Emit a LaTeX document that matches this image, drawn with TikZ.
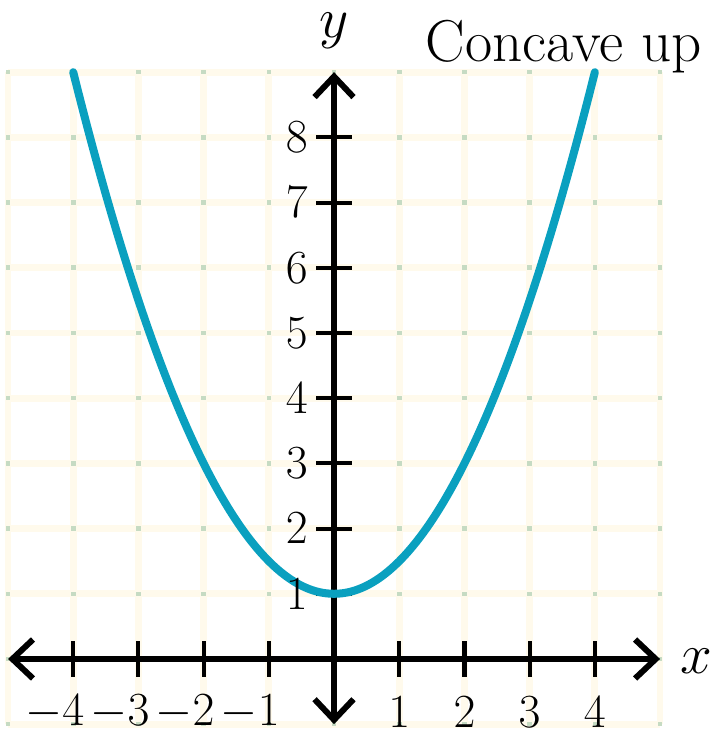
\documentclass[tikz,border=0pt]{standalone}
\usetikzlibrary{arrows.meta}
\definecolor{gridc}{HTML}{FFFAEC}
\definecolor{dotc}{HTML}{C6DBC3}
\definecolor{curvec}{HTML}{0AA0BF}
\begin{document}
\begin{tikzpicture}[
  gridline/.style={draw=gridc, line width=3pt},
  axisline/.style={line width=2.6pt, {Straight Barb[length=9pt,width=17pt]}-{Straight Barb[length=9pt,width=17pt]}},
  tickline/.style={line width=1.8pt},
  ticklabel/.style={font=\fontsize{21.5}{24}\selectfont, inner sep=0pt},
  axislabel/.style={font=\fontsize{24}{28}\selectfont, inner sep=0pt},
  titlelabel/.style={font=\fontsize{25.8}{30}\selectfont, inner sep=0pt},
  curveline/.style={draw=curvec, line width=3.5pt, line cap=round}
]
\useasboundingbox (-5.123,-1.181) rectangle (5.798,10.107);
% grid
\foreach \i in {-5,...,5} \draw[gridline] (\i,-1) -- (\i,9);
\foreach \j in {-1,...,9} \draw[gridline] (-5,\j) -- (5,\j);
\foreach \i in {-5,...,5} \foreach \j in {-1,...,9}
  \fill[dotc] (\i-0.035,\j-0.035) rectangle ++(0.07,0.07);
% axes
\coordinate (xleft) at (-5,0);
\coordinate (xright) at (5,0);
\coordinate (ybottom) at (0,-1);
\coordinate (ytop) at (0,9);
\draw[axisline] (xleft) -- (xright);
\draw[axisline] (ybottom) -- (ytop);
% ticks
\foreach \i in {-4,-3,-2,-1,1,2,3,4} \draw[tickline] (\i,-0.27) -- (\i,0.27);
\foreach \j in {1,...,8} \draw[tickline] (-0.27,\j) -- (0.27,\j);
% curve
\draw[curveline] plot[domain=-4:4, samples=121, smooth] (\x, {1+0.5*\x*\x});
% tick labels
\foreach \i in {1,...,4} {
  \node[ticklabel] (xneg\i) at (-\i,-0.81) {\llap{$-$}$\i$};
  \node[ticklabel] (xpos\i) at (\i,-0.81) {$\i$};
}
\foreach \j in {1,...,8} \node[ticklabel] (ylab\j) at (-0.57,\j) {$\j$};
% axis labels
\node[axislabel] (xname) at (5.55,-0.03) {$x$};
\node[axislabel] (yname) at (0,9.64) {$y$};
\node[titlelabel, anchor=base west] (title) at (1.40,9.16) {Concave up};
\end{tikzpicture}
\end{document}
